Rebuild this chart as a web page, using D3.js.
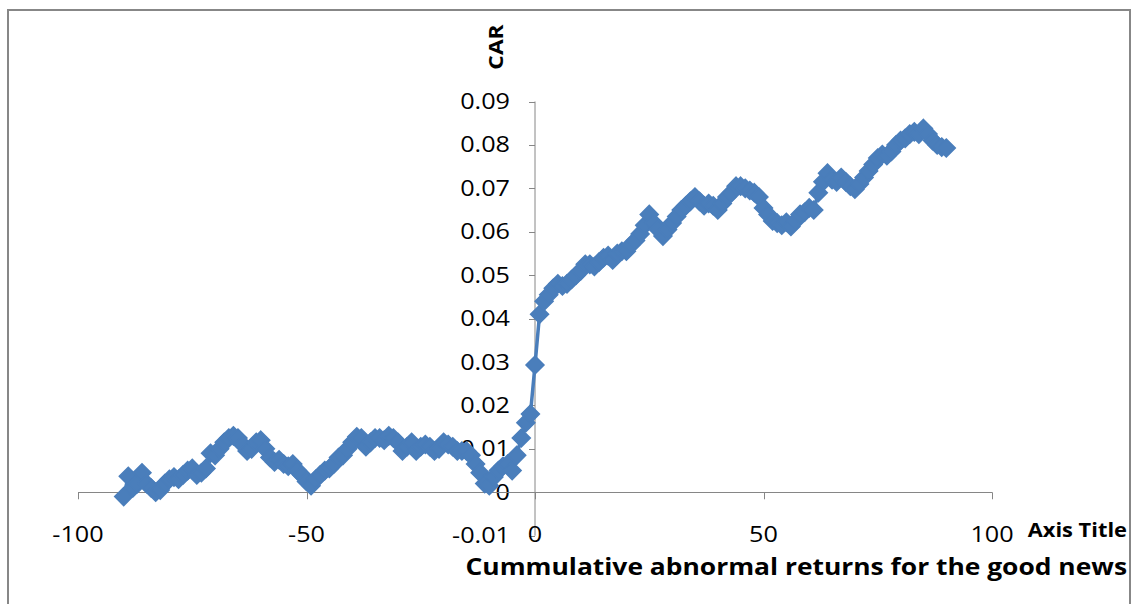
<!DOCTYPE html>
<html>
<head>
<meta charset="utf-8">
<script src="https://cdn.jsdelivr.net/npm/d3@7"></script>
<style>
  body { margin: 0; background: #fff; }
  text { font-family: "Open Sans", "Liberation Sans", sans-serif; fill: #000; }
</style>
</head>
<body>
<script>
// event days -90..90
var days = d3.range(-90, 91);

// cumulative abnormal returns
// days -90..-1
var carBefore = [
  -0.001, 0.0037, 0.001, 0.002, 0.0045, 0.002, 0.001, 0.0, 0.0005, 0.002,      // -90..-81
  0.003, 0.0035, 0.003, 0.004, 0.005, 0.0055, 0.004, 0.0045, 0.0055, 0.009,    // -80..-71
  0.0085, 0.010, 0.0115, 0.0125, 0.013, 0.0125, 0.011, 0.0095, 0.010, 0.0115,  // -70..-61
  0.012, 0.010, 0.008, 0.007, 0.0075, 0.0065, 0.006, 0.0065, 0.005, 0.004,     // -60..-51
  0.0025, 0.0015, 0.003, 0.004, 0.005, 0.0055, 0.0065, 0.008, 0.0085, 0.010,   // -50..-41
  0.0115, 0.0128, 0.0125, 0.0105, 0.0115, 0.0125, 0.0125, 0.012, 0.013, 0.0125, // -40..-31
  0.0115, 0.0095, 0.0105, 0.0115, 0.0095, 0.0105, 0.011, 0.0105, 0.0095, 0.010, // -30..-21
  0.0115, 0.011, 0.0105, 0.0095, 0.0095, 0.0095, 0.0085, 0.0065, 0.0045, 0.002, // -20..-11
  0.0015, 0.0035, 0.005, 0.006, 0.0065, 0.005, 0.0085, 0.0125, 0.016, 0.018    // -10..-1
];
// days 0..90
var carAfter = [
  0.0293, 0.041, 0.044, 0.0455, 0.047, 0.048, 0.0475, 0.048, 0.049, 0.050,     // 0..9
  0.051, 0.0525, 0.0525, 0.052, 0.053, 0.054, 0.0545, 0.0535, 0.055, 0.0555,   // 10..19
  0.0555, 0.057, 0.058, 0.0595, 0.0615, 0.064, 0.062, 0.0605, 0.059, 0.0605,   // 20..29
  0.062, 0.0635, 0.065, 0.066, 0.067, 0.068, 0.067, 0.066, 0.0665, 0.066,      // 30..39
  0.065, 0.0665, 0.068, 0.069, 0.0705, 0.0705, 0.070, 0.0695, 0.069, 0.068,    // 40..49
  0.0655, 0.064, 0.0625, 0.062, 0.0615, 0.0622, 0.0612, 0.0625, 0.064, 0.0645, // 50..59
  0.0655, 0.065, 0.069, 0.0715, 0.0735, 0.072, 0.0715, 0.0725, 0.0715, 0.0705, // 60..69
  0.0698, 0.071, 0.0725, 0.074, 0.0755, 0.077, 0.0778, 0.0775, 0.0785, 0.080,  // 70..79
  0.081, 0.0815, 0.0825, 0.083, 0.0825, 0.0838, 0.0825, 0.081, 0.080, 0.0795,  // 80..89
  0.0793                                                                      // 90
];
var car = carBefore.concat(carAfter);

var xTicks = [-100, -50, 0, 50, 100];
var yTicks = [-0.01, 0, 0.01, 0.02, 0.03, 0.04, 0.05, 0.06, 0.07, 0.08, 0.09];
var yTickLabels = ["-0.01", "0", "0.01", "0.02", "0.03", "0.04", "0.05", "0.06", "0.07", "0.08", "0.09"];

var W = 1136, H = 604;
var svg = d3.select("body").append("svg").attr("width", W).attr("height", H);

// chart frame
svg.append("path")
  .attr("d", "M8,606 L8,10 L1130,10 L1130,606")
  .attr("fill", "none").attr("stroke", "#878787").attr("stroke-width", 2);

var x = d3.scaleLinear().domain([-100, 100]).range([78, 992]);
var y = d3.scaleLinear().domain([-0.01, 0.09]).range([535.7, 101.5]);

var axisColor = "#868686";

// text drawn a bit wider, like the stretched original
function label(tx, ty, str, size, anchor, sx, bold, rot) {
  var t = "translate(" + tx + "," + ty + ")" + (rot ? " rotate(" + rot + ")" : "") + " scale(" + sx + ",1)";
  return svg.append("text")
    .attr("transform", t)
    .attr("text-anchor", anchor)
    .attr("font-size", size)
    .attr("font-weight", bold ? "bold" : "normal")
    .text(str);
}

// vertical axis at x = 0
svg.append("line")
  .attr("x1", x(0)).attr("x2", x(0))
  .attr("y1", y(0.09)).attr("y2", y(-0.01))
  .attr("stroke", axisColor).attr("stroke-width", 1);
svg.selectAll(".ytick").data(yTicks).enter().append("line")
  .attr("x1", x(0) - 6).attr("x2", x(0))
  .attr("y1", function(d){ return Math.round(y(d)) + 0.5; })
  .attr("y2", function(d){ return Math.round(y(d)) + 0.5; })
  .attr("stroke", axisColor);
yTicks.forEach(function(d, i) {
  label(x(0) - 25, y(d) + 7.5, yTickLabels[i], 21, "end", 1.2, false);
});

// horizontal axis at y = 0
svg.append("line")
  .attr("x1", x(-100)).attr("x2", x(100))
  .attr("y1", Math.round(y(0)) + 0.5).attr("y2", Math.round(y(0)) + 0.5)
  .attr("stroke", axisColor).attr("stroke-width", 1);
svg.selectAll(".xtick").data(xTicks).enter().append("line")
  .attr("x1", function(d){ return Math.round(x(d)) + 0.5; })
  .attr("x2", function(d){ return Math.round(x(d)) + 0.5; })
  .attr("y1", y(0)).attr("y2", y(0) + 7)
  .attr("stroke", axisColor);
xTicks.forEach(function(d) {
  label(x(d), 541.5, String(d), 21, "middle", 1.2, false);
});

// titles
label(503, 47, "CAR", 20, "middle", 1.14, true, -90);
label(1127, 537, "Axis Title", 19, "end", 1.15, true);
label(1127, 575, "Cummulative abnormal returns for the good news", 24, "end", 1.1, true);

// series
var blue = "#4a7ebb";
var line = d3.line()
  .x(function(d, i){ return x(days[i]); })
  .y(function(d){ return y(d); });
svg.append("path")
  .datum(car)
  .attr("d", line)
  .attr("fill", "none")
  .attr("stroke", blue)
  .attr("stroke-width", 3.5)
  .attr("stroke-linejoin", "round");
svg.selectAll(".pt").data(car).enter().append("path")
  .attr("transform", function(d, i){ return "translate(" + x(days[i]) + "," + y(d) + ")"; })
  .attr("d", "M0,-9L9,0L0,9L-9,0Z")
  .attr("fill", blue)
  .attr("stroke", blue)
  .attr("stroke-width", 1.5)
  .attr("stroke-linejoin", "miter");
</script>
</body>
</html>
